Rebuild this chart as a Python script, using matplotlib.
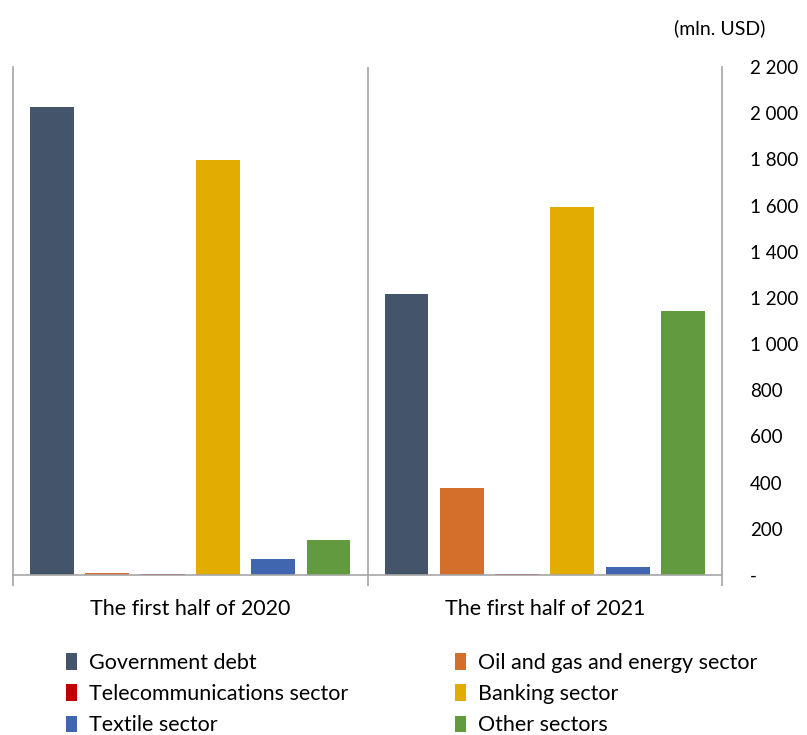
import matplotlib
matplotlib.use("Agg")
import matplotlib.pyplot as plt
from matplotlib.patches import Patch
import numpy as np

plt.rcParams['font.family'] = ['Lato', 'DejaVu Sans']

categories = ["The first half of 2020", "The first half of 2021"]
series = ["Government debt", "Oil and gas and energy sector", "Telecommunications sector",
          "Banking sector", "Textile sector", "Other sectors"]
values = {
    "Government debt": [2025, 1215],
    "Oil and gas and energy sector": [8, 377],
    "Telecommunications sector": [5, 3],
    "Banking sector": [1797, 1594],
    "Textile sector": [69, 35],
    "Other sectors": [152, 1143],
}
colors = ["#44546A", "#D46F2B", "#C00000", "#E3AC00", "#4066B0", "#629B3F"]
yticks = [0, 200, 400, 600, 800, 1000, 1200, 1400, 1600, 1800, 2000, 2200]
yticklabels = ["-", "200", "400", "600", "800", "1 000", "1 200", "1 400", "1 600", "1 800", "2 000", "2 200"]

fig = plt.figure(figsize=(8.07, 7.35), dpi=100)
ax = fig.add_axes([13/807, 1-575/735, (722-13)/807, (575-67)/735])

x = np.arange(len(categories))
width = 0.124
step = 0.156
offsets = (np.arange(len(series)) - 2.5) * step
for i, s in enumerate(series):
    ax.bar(x + offsets[i], values[s], width=width, color=colors[i], zorder=2)

ax.set_xlim(-0.5, 1.5)
ax.set_ylim(0, 2200)
spine_c = "#A6A6A6"
ax.spines['top'].set_visible(False)
for sp in ['left', 'right', 'bottom']:
    ax.spines[sp].set_color(spine_c)
    ax.spines[sp].set_linewidth(1.2)
ax.axvline(0.5, color=spine_c, lw=1.2, zorder=1)

ax.yaxis.tick_right()
ax.set_yticks(yticks)
ax.set_yticklabels(yticklabels, fontsize=13.5)
ax.tick_params(axis='y', length=0, pad=20)

ax.set_xticks([-0.5, 0.5, 1.5], minor=False)
ax.set_xticklabels(["", "", ""])
ax.tick_params(axis='x', length=8, color=spine_c, width=1.2)
for xi, c in zip(x, categories):
    ax.text(xi, -0.067, c, transform=ax.get_xaxis_transform(), ha='center', va='center', fontsize=15.5)

fig.text(720/807, 1-28/735, "(mln. USD)", ha='center', va='center', fontsize=14)

handles = [Patch(facecolor=c, edgecolor='none') for c in colors]
left_idx = [0, 2, 4]
right_idx = [1, 3, 5]
common = dict(frameon=False, fontsize=15.5, handlelength=0.5, handleheight=0.8,
              handletextpad=0.55, labelspacing=0.52, borderpad=0, borderaxespad=0)
fig.legend([handles[i] for i in left_idx], [series[i] for i in left_idx],
           loc='upper left', bbox_to_anchor=(66/807, 1-653/735), **common)
fig.legend([handles[i] for i in right_idx], [series[i] for i in right_idx],
           loc='upper left', bbox_to_anchor=(455/807, 1-653/735), **common)

fig.savefig("out.png", dpi=100)
